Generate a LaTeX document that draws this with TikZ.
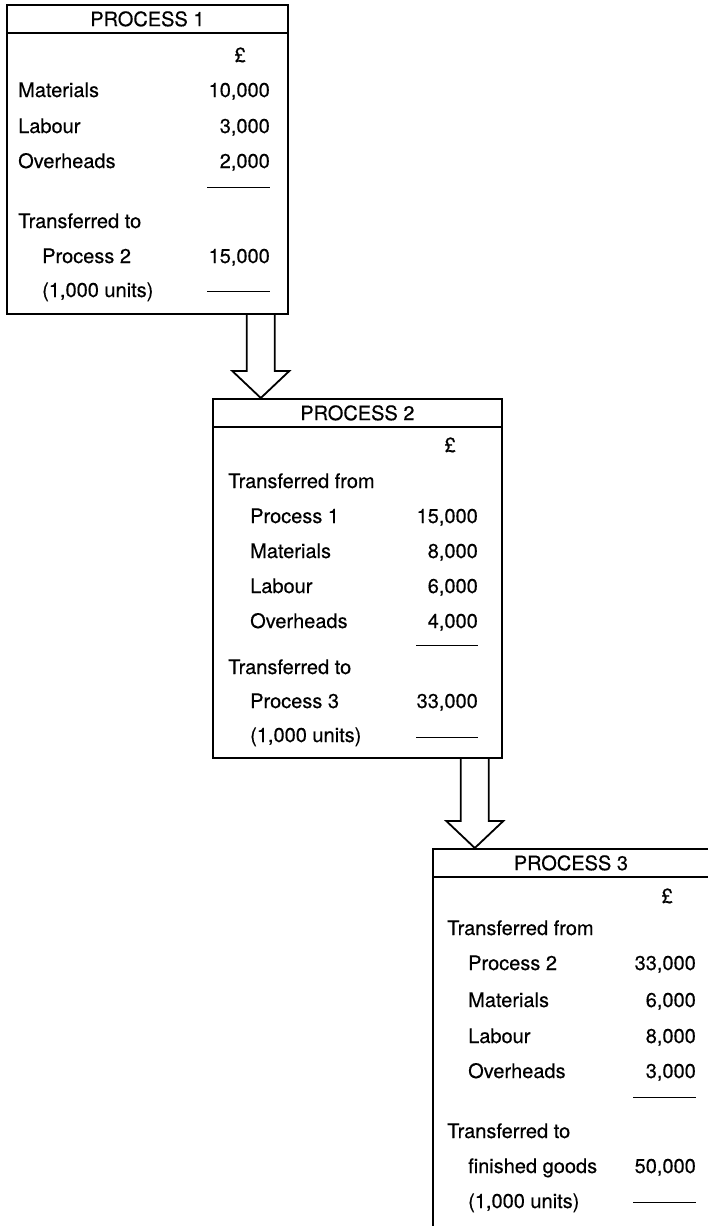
\documentclass[tikz,border=0pt]{standalone}
\usepackage{fontspec}
\setmainfont{TeX Gyre Heros}[FakeBold=0.4]
\usetikzlibrary{calc}

% hollow block arrow from a point under one box to a tip on the next
\newcommand{\blockarrow}[2]{%
  \draw[flow] ($(#1)+(-14,0)$) -- ($(#2)+(-14,-27)$) -- ($(#2)+(-28.5,-27)$)
    -- (#2) -- ($(#2)+(28.5,-27)$) -- ($(#2)+(14,-27)$) -- ($(#1)+(14,0)$);}

\begin{document}
\begin{tikzpicture}[%
      x=1pt, y=-1pt,
      font=\fontsize{20}{23}\selectfont,
      box/.style={draw, line width=1.8pt, anchor=north west, inner sep=0pt},
      hdr/.style={box, minimum height=28pt},
      lbl/.style={anchor=base west, inner sep=0pt},
      amt/.style={anchor=base east, inner sep=0pt},
      rule/.style={line width=0.9pt},
      flow/.style={line width=1.8pt, line join=miter},
      ]
      \useasboundingbox (0,0) rectangle (708,1226);
      \clip (0,0) rectangle (708,1226);

      % process 1
      \node[box, minimum width=281pt, minimum height=309pt] (p1) at (6,4) {};
      \node[hdr, minimum width=281pt] (h1) at (6,4) {PROCESS 1};
      \node[amt] (c1) at (246,62) {£};
      \node[lbl] (m1) at (18,97) {Materials};
      \node[amt] (m1v) at (270,97) {10,000};
      \node[lbl] (l1) at (18,133) {Labour};
      \node[amt] (l1v) at (270,133) {3,000};
      \node[lbl] (o1) at (18,168) {Overheads};
      \node[amt] (o1v) at (270,168) {2,000};
      \draw[rule] (207,187) -- (270,187);
      \node[lbl] (t1) at (18,228) {Transferred to};
      \node[lbl] (d1) at (42,263) {Process 2};
      \node[amt] (d1v) at (270,263) {15,000};
      \node[lbl] (u1) at (42,297) {(1,000 units)};
      \draw[rule] (207,291) -- (270,291);

      % process 2
      \node[box, minimum width=289pt, minimum height=359pt] (p2) at (212,398) {};
      \node[hdr, minimum width=289pt] (h2) at (212,398) {PROCESS 2};
      \node[amt] (c2) at (456,452) {£};
      \node[lbl] (f2) at (228,488) {Transferred from};
      \node[lbl] (s2) at (250,523) {Process 1};
      \node[amt] (s2v) at (478,523) {15,000};
      \node[lbl] (m2) at (250,558) {Materials};
      \node[amt] (m2v) at (478,558) {8,000};
      \node[lbl] (l2) at (250,593) {Labour};
      \node[amt] (l2v) at (478,593) {6,000};
      \node[lbl] (o2) at (250,628) {Overheads};
      \node[amt] (o2v) at (478,628) {4,000};
      \draw[rule] (416,645) -- (478,645);
      \node[lbl] (t2) at (228,674) {Transferred to};
      \node[lbl] (d2) at (250,708) {Process 3};
      \node[amt] (d2v) at (478,708) {33,000};
      \node[lbl] (u2) at (250,742) {(1,000 units)};
      \draw[rule] (416,737) -- (478,737);

      % process 3 (runs off the page)
      \node[box, minimum width=280pt, minimum height=400pt] (p3) at (432,848) {};
      \node[hdr, minimum width=276pt] (h3) at (432,848) {PROCESS 3};
      \node[amt] (c3) at (673,903) {£};
      \node[lbl] (f3) at (447,935) {Transferred from};
      \node[lbl] (s3) at (468,970) {Process 2};
      \node[amt] (s3v) at (696,970) {33,000};
      \node[lbl] (m3) at (468,1007) {Materials};
      \node[amt] (m3v) at (696,1007) {6,000};
      \node[lbl] (l3) at (468,1043) {Labour};
      \node[amt] (l3v) at (696,1043) {8,000};
      \node[lbl] (o3) at (468,1078) {Overheads};
      \node[amt] (o3v) at (696,1078) {3,000};
      \draw[rule] (633,1097) -- (696,1097);
      \node[lbl] (t3) at (447,1138) {Transferred to};
      \node[lbl] (d3) at (468,1173) {finished goods};
      \node[amt] (d3v) at (696,1173) {50,000};
      \node[lbl] (u3) at (468,1208) {(1,000 units)};
      \draw[rule] (633,1202) -- (696,1202);

      % transfers
      \coordinate (a1) at ([xshift=-28pt]p1.south east);
      \coordinate (k1) at (a1 |- p2.north);
      \coordinate (a2) at ([xshift=-28pt]p2.south east);
      \coordinate (k2) at (a2 |- p3.north);
      \blockarrow{a1}{k1}
      \blockarrow{a2}{k2}
\end{tikzpicture}
\end{document}
